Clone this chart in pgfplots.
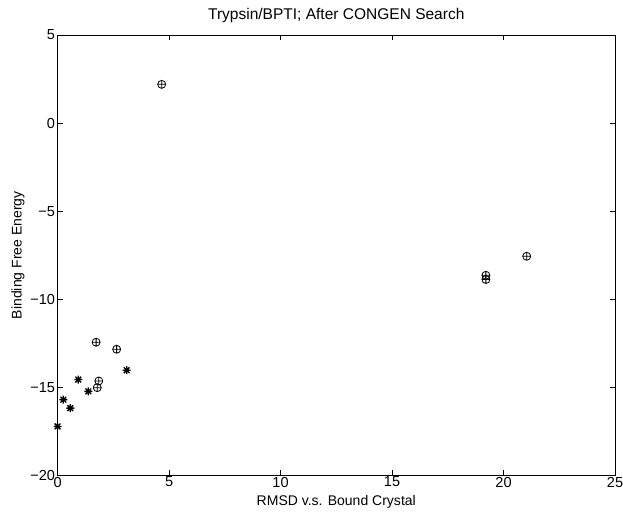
\documentclass[border=0pt]{standalone}
\usepackage{fontspec}
\setmainfont{Liberation Sans}
\usepackage{pgfplots}
\pgfplotsset{compat=1.18}
\pgfdeclareplotmark{mstar}{%
  \pgfpathmoveto{\pgfqpoint{-\pgfplotmarksize}{0pt}}\pgfpathlineto{\pgfqpoint{\pgfplotmarksize}{0pt}}%
  \pgfpathmoveto{\pgfqpoint{0pt}{-\pgfplotmarksize}}\pgfpathlineto{\pgfqpoint{0pt}{\pgfplotmarksize}}%
  \pgfpathmoveto{\pgfqpoint{-0.72\pgfplotmarksize}{-0.72\pgfplotmarksize}}\pgfpathlineto{\pgfqpoint{0.72\pgfplotmarksize}{0.72\pgfplotmarksize}}%
  \pgfpathmoveto{\pgfqpoint{-0.72\pgfplotmarksize}{0.72\pgfplotmarksize}}\pgfpathlineto{\pgfqpoint{0.72\pgfplotmarksize}{-0.72\pgfplotmarksize}}%
  \pgfusepathqstroke}
\begin{document}
\begin{tikzpicture}
\begin{axis}[
  scale only axis,
  width=557pt, height=440pt,
  xmin=0, xmax=25, ymin=-20, ymax=5,
  xtick={0,5,...,25}, ytick={-20,-15,...,5},
  yticklabels={−20,−15,−10,−5,0,5},
  tick align=inside,
  major tick length=5pt,
  tick style={black, line width=0.6pt},
  axis line style={line width=0.8pt},
  /pgf/number format/assume math mode=true,
  tick label style={font=\fontsize{14.5}{16}\selectfont},
  label style={font=\fontsize{14}{16}\selectfont},
  title style={font=\fontsize{15.5}{17}\selectfont, at={(axis description cs:0.5,1.03)}, anchor=center},
  title={Trypsin/BPTI; After CONGEN Search},
  xlabel={RMSD v.s. Bound Crystal},
  ylabel={Binding Free Energy},
  xlabel style={at={(axis description cs:0.5,-0.061)}, anchor=center},
  ylabel style={at={(axis description cs:-0.071,0.5)}, anchor=center},
  xticklabel style={yshift=2pt},
  yticklabel style={xshift=1pt},
]
\addplot[only marks, mark=oplus, mark size=4pt, mark options={line width=0.8pt}] coordinates {
 (4.67,2.2) (1.73,-12.44) (2.65,-12.84) (1.85,-14.64) (1.78,-15.02)
 (19.21,-8.64) (19.21,-8.88) (21.04,-7.56)
};
\addplot[only marks, mark=mstar, mark size=4pt, mark options={line width=1.3pt}] coordinates {
 (0,-17.22) (0.26,-15.7) (0.57,-16.18) (0.93,-14.56) (1.38,-15.23) (3.10,-14.03)
};
\end{axis}
\pgfresetboundingbox
\path[use as bounding box] ([xshift=-57.5pt,yshift=-37pt]current axis.south west) rectangle ([xshift=8pt,yshift=35pt]current axis.north east);
\end{tikzpicture}
\end{document}
